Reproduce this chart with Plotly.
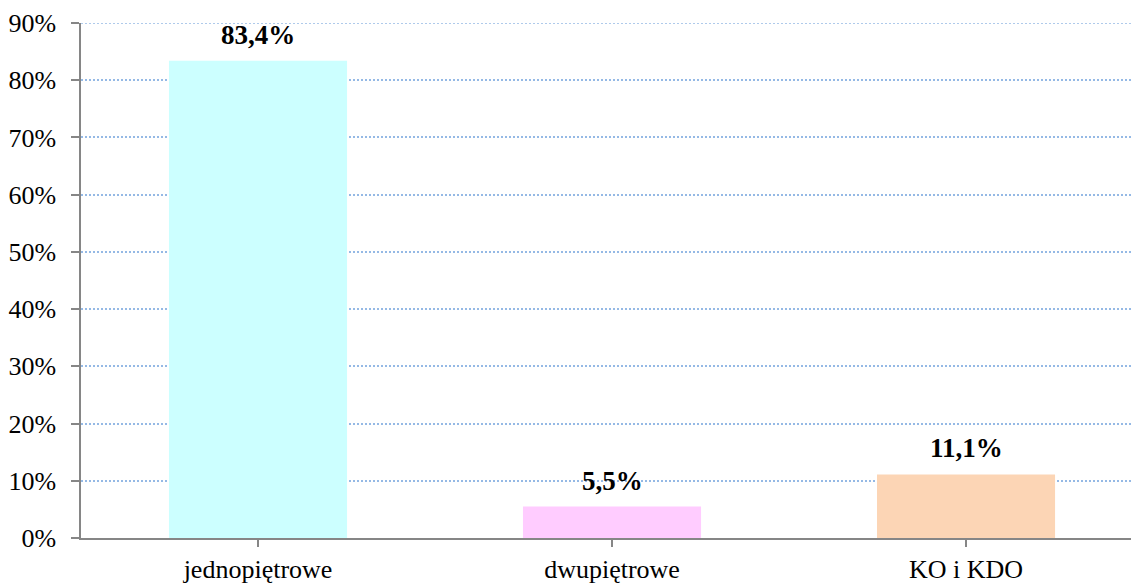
import plotly.graph_objects as go

categories = ["jednopiętrowe", "dwupiętrowe", "KO i KDO"]
shares = [83.4, 5.5, 11.1]
bar_colors = ["#CCFFFF", "#FFCCFF", "#FCD5B5"]
y_ticks = [0, 10, 20, 30, 40, 50, 60, 70, 80, 90]

label_text = [f"{v:.1f}".replace(".", ",") + "%" for v in shares]

grid_color = "#95B9E5"
axis_gray = "#868686"

fig = go.Figure()
fig.add_trace(go.Bar(
    x=list(range(len(categories))),
    y=shares,
    marker=dict(color=bar_colors, line=dict(width=0)),
    width=0.503,
    hoverinfo="skip",
))

for i, (v, t) in enumerate(zip(shares, label_text)):
    fig.add_annotation(
        x=i, y=v, text=f"<b>{t}</b>", showarrow=False,
        yanchor="bottom", yshift=9,
        font=dict(family="Liberation Serif", size=27, color="black"),
    )

# the gridline at the top of the value range sits on the plot edge, draw it explicitly
fig.add_shape(
    type="line", xref="paper", yref="y",
    x0=0, x1=1, y0=y_ticks[-1], y1=y_ticks[-1],
    line=dict(color=grid_color, width=1.5, dash="2px,2px"),
    layer="below",
)

fig.update_layout(
    width=1132, height=584,
    margin=dict(l=81, r=1, t=23, b=46),
    paper_bgcolor="white", plot_bgcolor="white",
    showlegend=False,
    font=dict(family="Liberation Serif", size=26, color="black"),
    xaxis=dict(
        range=[-0.5, 2.466],
        tickmode="array",
        tickvals=list(range(len(categories))),
        ticktext=categories,
        tickson="boundaries",
        ticks="outside", ticklen=7, tickcolor=axis_gray, tickwidth=1.5,
        showline=True, linecolor=axis_gray, linewidth=1.5,
        showgrid=False, zeroline=False,
        tickfont=dict(family="Liberation Serif", size=26, color="black"),
    ),
    yaxis=dict(
        range=[0, 90],
        tickmode="array",
        tickvals=y_ticks,
        ticktext=[f"{t}%" for t in y_ticks],
        ticks="outside", ticklen=8, tickcolor=axis_gray, tickwidth=1.5,
        ticklabelstandoff=10,
        showline=True, linecolor=axis_gray, linewidth=1.5,
        showgrid=True, gridcolor=grid_color, griddash="2px,2px", gridwidth=1.5,
        zeroline=False,
        tickfont=dict(family="Liberation Serif", size=26, color="black"),
    ),
)

fig.write_html("out.html")
